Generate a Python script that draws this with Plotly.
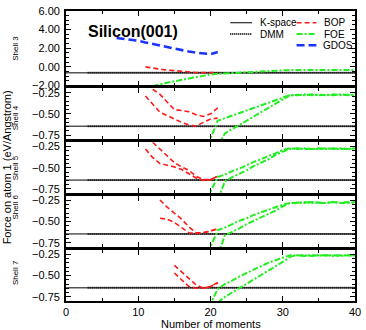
import plotly.graph_objects as go

# ---------------- data ----------------
shells = ["Shell 3", "Shell 4", "Shell 5", "Shell 6", "Shell 7"]
kspace_force = [-0.645, -0.645, -0.645, -0.645, -0.645]
kspace_moments = [0, 40]
dmm_moments = [3, 40]

# Shell 3
bop_x_s3 = [11, 12, 13, 14, 15, 16, 17, 18, 19, 20, 21]
bop_y_s3 = [0.0, -0.15, -0.25, -0.35, -0.42, -0.50, -0.55, -0.60, -0.62, -0.64, -0.62]
gdos_x_s3 = [7, 8, 9, 10, 11, 12, 13, 14, 15, 16, 17, 18, 19, 20, 21]
gdos_y_s3 = [3.10, 3.02, 2.95, 2.80, 2.62, 2.45, 2.28, 2.12, 1.95, 1.80, 1.65, 1.52, 1.42, 1.37, 1.60]
foe_x_s3 = [12, 13, 14, 15, 16, 17, 18, 19, 20, 21, 22, 23, 24, 25, 26, 27, 28, 29, 30,
            31, 32, 33, 34, 35, 36, 37, 38, 39, 40]
foe_y_s3 = [-2.05, -1.85, -1.70, -1.55, -1.40, -1.25, -1.10, -0.95, -0.82, -0.75, -0.70,
            -0.66, -0.62, -0.58, -0.54, -0.50, -0.46, -0.42, -0.38, -0.33, -0.33, -0.35,
            -0.32, -0.36, -0.33, -0.34, -0.36, -0.33, -0.35]

# Shells 4-7: two BOP branches, two FOE branches
bop_a_x = {4: [12, 13, 14, 15, 16, 17, 18, 19, 20, 21],
           5: [12, 13, 14, 15, 16, 17, 18, 19, 20, 21],
           6: [13, 14, 15, 16, 17, 18, 19, 20, 21],
           7: [15, 16, 17, 18, 19, 20, 21]}
bop_a_s4 = [-0.21, -0.27, -0.36, -0.45, -0.46, -0.475, -0.51, -0.53, -0.50, -0.43]
bop_a_s5 = [-0.20, -0.28, -0.36, -0.44, -0.49, -0.53, -0.60, -0.64, -0.64, -0.60]
bop_a_s6 = [-0.245, -0.33, -0.40, -0.47, -0.56, -0.63, -0.63, -0.61, -0.58]
bop_a_s7 = [-0.38, -0.46, -0.53, -0.61, -0.65, -0.63, -0.58]

bop_b_x = {4: [11, 12, 13, 14, 15, 16, 17, 18, 19, 20, 21],
           5: [11, 12, 13, 14, 15, 16, 17, 18, 19, 20, 21],
           6: [13, 14, 15, 16, 17, 18, 19, 20, 21],
           7: [15, 16, 17, 18, 19, 20, 21]}
bop_b_s4 = [-0.29, -0.39, -0.48, -0.52, -0.56, -0.60, -0.63, -0.645, -0.60, -0.56, -0.55]
bop_b_s5 = [-0.28, -0.38, -0.45, -0.47, -0.49, -0.52, -0.57, -0.62, -0.65, -0.64, -0.60]
bop_b_s6 = [-0.46, -0.47, -0.51, -0.57, -0.63, -0.64, -0.63, -0.61, -0.585]
bop_b_s7 = [-0.47, -0.55, -0.63, -0.65, -0.65, -0.63, -0.59]

foe_a_x = [19, 20, 21, 22, 23, 24, 25, 26, 27, 28, 29, 30, 31, 32, 33, 34, 35, 36, 37, 38, 39, 40]
foe_a_s4 = [-1.0, -0.80, -0.58, -0.55, -0.52, -0.49, -0.46, -0.43, -0.40, -0.37, -0.34, -0.31,
            -0.28, -0.275, -0.28, -0.27, -0.28, -0.275, -0.28, -0.27, -0.28, -0.27]
foe_a_s5 = [-1.0, -0.78, -0.61, -0.58, -0.54, -0.51, -0.47, -0.43, -0.40, -0.36, -0.33, -0.29,
            -0.27, -0.28, -0.27, -0.28, -0.28, -0.27, -0.28, -0.27, -0.28, -0.27]
foe_a_s6 = [-1.0, -0.80, -0.60, -0.57, -0.53, -0.49, -0.46, -0.42, -0.39, -0.36, -0.33, -0.30,
            -0.28, -0.275, -0.28, -0.27, -0.28, -0.28, -0.27, -0.28, -0.27, -0.28]
foe_a_s7 = [-1.0, -0.82, -0.66, -0.60, -0.56, -0.51, -0.47, -0.43, -0.39, -0.35, -0.32, -0.29,
            -0.26, -0.265, -0.26, -0.27, -0.26, -0.265, -0.26, -0.27, -0.26, -0.265]

foe_b_x = [21, 22, 23, 24, 25, 26, 27, 28, 29, 30, 31, 32, 33, 34, 35, 36, 37, 38, 39, 40]
foe_b_s4 = [-0.88, -0.73, -0.68, -0.63, -0.58, -0.53, -0.48, -0.43, -0.38, -0.33, -0.28,
            -0.28, -0.27, -0.28, -0.275, -0.28, -0.27, -0.28, -0.275, -0.28]
foe_b_s5 = [-0.88, -0.66, -0.61, -0.57, -0.53, -0.48, -0.44, -0.40, -0.35, -0.31, -0.28,
            -0.27, -0.28, -0.28, -0.27, -0.28, -0.27, -0.28, -0.28, -0.27]
foe_b_s6 = [-0.90, -0.66, -0.62, -0.58, -0.53, -0.49, -0.45, -0.41, -0.37, -0.32, -0.28,
            -0.28, -0.27, -0.28, -0.275, -0.28, -0.27, -0.28, -0.28, -0.27]
foe_b_s7 = [-0.82, -0.75, -0.70, -0.65, -0.60, -0.55, -0.50, -0.44, -0.39, -0.34, -0.28,
            -0.26, -0.27, -0.26, -0.265, -0.26, -0.27, -0.26, -0.265, -0.26]

bop_a = {4: bop_a_s4, 5: bop_a_s5, 6: bop_a_s6, 7: bop_a_s7}
bop_b = {4: bop_b_s4, 5: bop_b_s5, 6: bop_b_s6, 7: bop_b_s7}
foe_a = {4: foe_a_s4, 5: foe_a_s5, 6: foe_a_s6, 7: foe_a_s7}
foe_b = {4: foe_b_s4, 5: foe_b_s5, 6: foe_b_s6, 7: foe_b_s7}

# ---------------- styling ----------------
FONT = "Liberation Sans, Arial, Helvetica, sans-serif"
RED = "#ff1a1a"
GREEN = "#22ee22"
BLUE = "#1a33ff"
BOP_DASH = "5px,3px"
FOE_DASH = "6px,2px,2px,2px"
GDOS_DASH = "8px,4px"
DMM_DASH = "1px,1px"

W, H = 366, 330
ML, MR, MT, MB = 66, 8, 5, 29
PW, PH = W - ML - MR, H - MT - MB

# panel pixel extents (top, bottom)
panel_px = [(5, 81), (84, 136), (139, 191), (194, 246), (249, 301)]


def py(v):
    return (H - MB - v) / PH


def px(v):
    return (v - ML) / PW


fig = go.Figure()


def add_line(k, x, y, color, dash, width):
    sfx = "" if k == 1 else str(k)
    fig.add_trace(go.Scatter(x=x, y=y, mode="lines", showlegend=False,
                             line=dict(color=color, dash=dash, width=width),
                             xaxis="x" + sfx, yaxis="y" + sfx, hoverinfo="skip"))


for k in range(1, 6):
    shell_no = k + 2
    kf = kspace_force[k - 1]
    add_line(k, kspace_moments, [kf, kf], "black", "solid", 1.0)
    add_line(k, dmm_moments, [kf, kf], "black", DMM_DASH, 2.0)
    if shell_no == 3:
        add_line(k, bop_x_s3, bop_y_s3, RED, BOP_DASH, 1.6)
        add_line(k, foe_x_s3, foe_y_s3, GREEN, FOE_DASH, 2.0)
        add_line(k, gdos_x_s3, gdos_y_s3, BLUE, GDOS_DASH, 2.6)
    else:
        add_line(k, bop_a_x[shell_no], bop_a[shell_no], RED, BOP_DASH, 1.6)
        add_line(k, bop_b_x[shell_no], bop_b[shell_no], RED, BOP_DASH, 1.6)
        add_line(k, foe_a_x, foe_a[shell_no], GREEN, FOE_DASH, 2.0)
        add_line(k, foe_b_x, foe_b[shell_no], GREEN, FOE_DASH, 2.0)

layout = dict(width=W, height=H, margin=dict(l=ML, r=MR, t=MT, b=MB),
              paper_bgcolor="white", plot_bgcolor="white", showlegend=False,
              font=dict(family=FONT, size=11, color="black"))

for k in range(1, 6):
    sfx = "" if k == 1 else str(k)
    top, bot = panel_px[k - 1]
    axis_common = dict(showline=True, linecolor="black", linewidth=1.8, mirror="ticks",
                       ticks="inside", ticklen=5, tickwidth=1.2, tickcolor="black",
                       showgrid=False, zeroline=False)
    layout["xaxis" + sfx] = dict(axis_common, domain=[0, 1], range=[0, 40], anchor="y" + sfx,
                                 tick0=0, dtick=10, showticklabels=(k == 5),
                                 tickfont=dict(size=11),
                                 minor=dict(dtick=5, ticks="inside", ticklen=3,
                                            tickwidth=1, tickcolor="black"))
    if k == 1:
        yr, yd, ym, y0 = [-2, 6], 2, 0.5, 0
    else:
        yr, yd, ym, y0 = [-0.8, -0.2], 0.25, 0.05, -0.25
    layout["yaxis" + sfx] = dict(axis_common, domain=[py(bot), py(top)], range=yr,
                                 anchor="x" + sfx, tick0=y0, dtick=yd, tickformat=".2f",
                                 tickfont=dict(size=11), ticklabelstandoff=2,
                                 minor=dict(tick0=y0, dtick=ym, ticks="inside", ticklen=3,
                                            tickwidth=1, tickcolor="black"))
fig.update_layout(**layout)

ann = []
ann.append(dict(text="<b>Silicon(001)</b>", x=px(86), y=py(26), xref="paper", yref="paper",
                xanchor="left", yanchor="middle", showarrow=False, font=dict(size=16)))
ann.append(dict(text="Force on atom 1 (eV/Angstrom)", x=px(6), y=py(165), xref="paper",
                yref="paper", xanchor="center", yanchor="middle", textangle=-90,
                showarrow=False, font=dict(size=11)))
ann.append(dict(text="Number of moments", x=0.5, y=py(324), xref="paper", yref="paper",
                xanchor="center", yanchor="middle", showarrow=False, font=dict(size=11)))
shell_label_px = [43, 114, 165, 205, 272]
for name, yc in zip(shells, shell_label_px):
    ann.append(dict(text=name, x=px(15), y=py(yc), xref="paper", yref="paper",
                    xanchor="center", yanchor="middle", textangle=-90, showarrow=False,
                    font=dict(size=8)))

# legend: two columns drawn in paper space
legend_rows = [17, 28.5, 40]
legend_entries = [
    ("K-space", "black", "solid", 1.0, 232, 254, 260, 0),
    ("DMM", "black", DMM_DASH, 2.0, 232, 254, 260, 1),
    ("BOP", RED, BOP_DASH, 1.6, 299, 319, 325, 0),
    ("FOE", GREEN, FOE_DASH, 2.0, 299, 319, 325, 1),
    ("GDOS", BLUE, GDOS_DASH, 2.6, 299, 319, 324, 2),
]
shapes = []
for label, col, dash, wd, x0, x1, xt, row in legend_entries:
    yy = py(legend_rows[row])
    shapes.append(dict(type="line", xref="paper", yref="paper", x0=px(x0), x1=px(x1),
                       y0=yy, y1=yy, line=dict(color=col, dash=dash, width=wd)))
    ann.append(dict(text=label, x=px(xt), y=yy, xref="paper", yref="paper",
                    xanchor="left", yanchor="middle", showarrow=False, font=dict(size=10)))

fig.update_layout(annotations=ann, shapes=shapes)
fig.write_html("out.html")
